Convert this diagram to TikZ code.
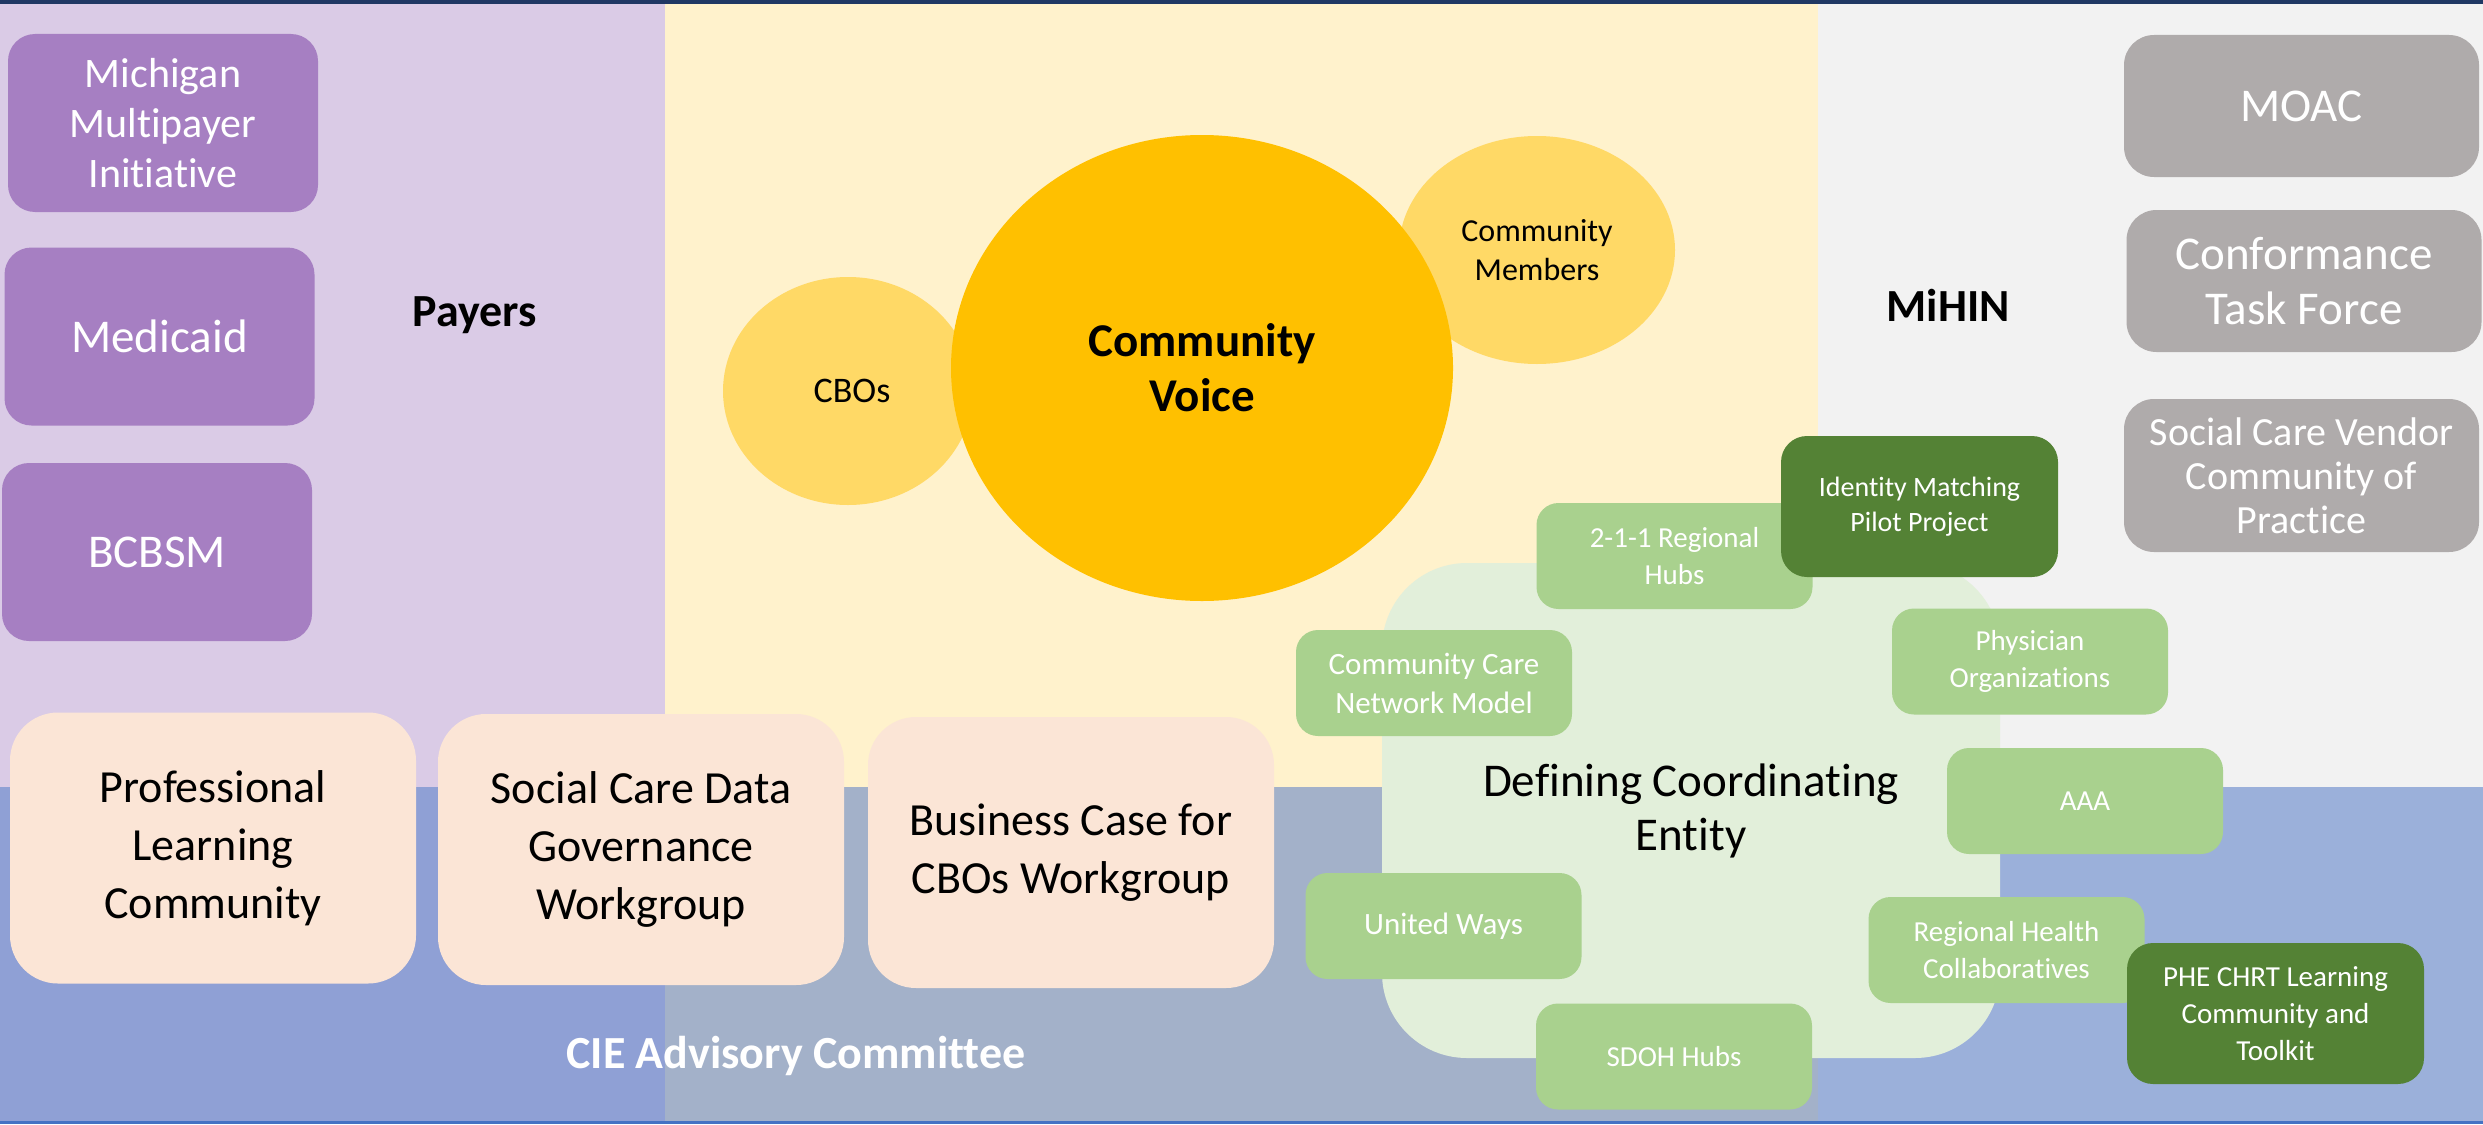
\documentclass[tikz,border=0pt]{standalone}
\usepackage{fontspec}
\setmainfont{Carlito}[Ligatures={NoCommon,NoContextual}]
\usetikzlibrary{shapes.geometric}

\definecolor{lavbg}{RGB}{218,203,230}
\definecolor{creambg}{RGB}{255,242,204}
\definecolor{greybg}{RGB}{242,242,242}
\definecolor{blueL}{RGB}{143,160,213}
\definecolor{blueM}{RGB}{163,177,201}
\definecolor{blueR}{RGB}{155,176,218}
\definecolor{navy}{RGB}{32,56,100}
\definecolor{edgeblue}{RGB}{68,114,196}
\definecolor{purplebox}{RGB}{166,127,194}
\definecolor{greybox}{RGB}{175,171,171}
\definecolor{peach}{RGB}{251,229,214}
\definecolor{amber}{RGB}{255,192,0}
\definecolor{paleamber}{RGB}{255,217,102}
\definecolor{palegreen}{RGB}{226,239,218}
\definecolor{leafgreen}{RGB}{169,209,142}
\definecolor{forest}{RGB}{84,130,53}

\newcommand{\txtsize}[2]{\fontsize{#1}{#2}\selectfont}

\tikzset{
  box/.style={rectangle, inner sep=0pt, align=center},
  payerbox/.style={box, fill=purplebox, rounded corners=27pt, text=white,
    minimum width=310pt, minimum height=178pt},
  mihinbox/.style={box, fill=greybox, rounded corners=30pt, text=white,
    minimum width=355pt},
  groupbox/.style={box, fill=peach, rounded corners=48pt, text=black,
    minimum width=406pt, minimum height=271pt, font=\txtsize{46}{58}},
  entitybox/.style={box, fill=leafgreen, rounded corners=22pt, text=white,
    minimum width=276pt, minimum height=106pt, font=\txtsize{29}{37}},
  pilotbox/.style={box, fill=forest, rounded corners=26pt, text=white,
    minimum height=141pt, font=\txtsize{28}{35}},
  bubble/.style={ellipse, inner sep=0pt, align=center},
  heading/.style={inner sep=0pt, align=center, font=\bfseries\txtsize{46}{55}}
}

\begin{document}
\begin{tikzpicture}[x=1pt, y=-1pt]
\useasboundingbox (0,0) rectangle (2483,1124);

% background quadrants
\fill[lavbg]   (0,0)    rectangle (665,787);
\fill[creambg] (665,0)  rectangle (1818,787);
\fill[greybg]  (1818,0) rectangle (2483,787);
\fill[blueL]   (0,787)    rectangle (665,1124);
\fill[blueM]   (665,787)  rectangle (1818,1124);
\fill[blueR]   (1818,787) rectangle (2483,1124);
\fill[navy]     (0,0)    rectangle (2483,4);
\fill[edgeblue] (0,1121) rectangle (2483,1124);

% payers
\node[payerbox, font=\txtsize{42}{50}] (mmi) at (163,123) {Michigan\\Multipayer\\Initiative};
\node[payerbox, font=\txtsize{47}{56}] (medicaid) at (159.5,336.5) {Medicaid};
\node[payerbox, font=\txtsize{47}{56}] (bcbsm) at (157,552) {BCBSM};
\node[heading] (payers) at (475,315) {Payers};

% MiHIN
\node[mihinbox, minimum height=142pt, font=\txtsize{47}{55}] (moac) at (2301.5,106) {MOAC};
\node[mihinbox, minimum height=142pt, font=\txtsize{47}{55}] (ctf) at (2304,281) {Conformance\\Task Force};
\node[mihinbox, minimum height=153pt, font=\txtsize{40}{44}] (scv) at (2301.5,475.5) {Social Care Vendor\\Community of\\Practice};
\node[heading] (mihin) at (1948,305) {MiHIN};

% CIE advisory committee workgroups
\node[groupbox] (plc) at (213,848) {Professional\\Learning\\Community};
\node[groupbox] (scdg) at (641,849.5) {Social Care Data\\Governance\\Workgroup};
\node[groupbox] (bcc) at (1071,852.5) {Business Case for\\CBOs Workgroup};
\node[heading, text=white] (cie) at (796,1056) {CIE Advisory Committee};

% community voice
\node[bubble, fill=paleamber, minimum width=250pt, minimum height=228pt,
  font=\txtsize{36}{44}] (cbo) at (848,391) {\hspace*{8pt}CBOs};
\node[bubble, fill=paleamber, minimum width=276pt, minimum height=228pt,
  font=\txtsize{32}{39}] (cm) at (1537,250) {Community\\Members};
\node[bubble, fill=amber, minimum width=502pt, minimum height=466pt,
  font=\bfseries\txtsize{47}{55}] (cv) at (1202,368) {Community\\Voice};

% coordinating entity
\node[box, fill=palegreen, rounded corners=85pt, minimum width=618pt,
  minimum height=495pt, font=\txtsize{47}{54}] (dce) at (1691,810.5)
  {Defining Coordinating\\Entity};
\node[entitybox] (hubs) at (1674.5,556) {2-1-1 Regional\\Hubs};
\node[entitybox, font=\txtsize{31}{39}] (ccnm) at (1434,683) {Community Care\\Network Model};
\node[entitybox] (po) at (2030,661.5) {Physician\\Organizations};
\node[entitybox] (aaa) at (2085,801) {AAA};
\node[entitybox, font=\txtsize{31}{39}] (uw) at (1443.5,926) {United Ways};
\node[entitybox] (rhc) at (2006.5,950) {Regional Health\\Collaboratives};
\node[entitybox] (sdoh) at (1674,1056.5) {SDOH Hubs};
\node[pilotbox, minimum width=277pt] (idm) at (1919.5,506.5) {Identity Matching\\Pilot Project};
\node[pilotbox, minimum width=297pt, font=\txtsize{29}{37}] (phe) at (2275.5,1013.5)
  {PHE CHRT Learning\\Community and\\Toolkit};
\end{tikzpicture}
\end{document}
